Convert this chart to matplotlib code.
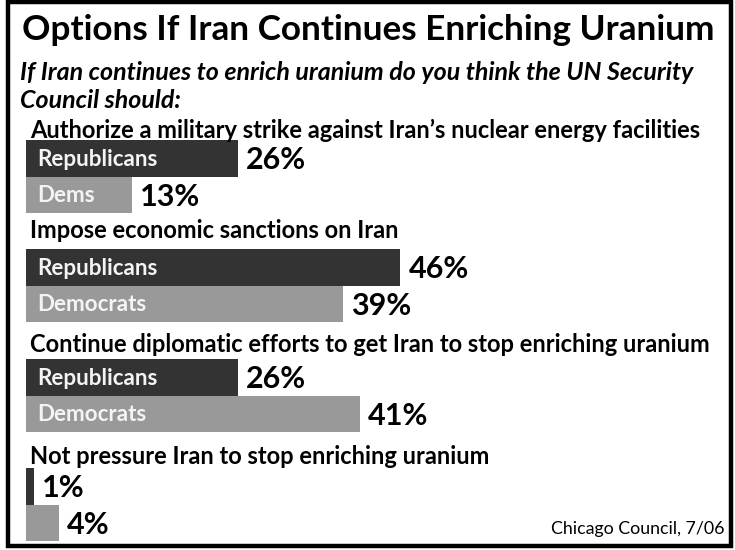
import matplotlib
matplotlib.use("Agg")
import matplotlib.pyplot as plt
from matplotlib.patches import Rectangle

plt.rcParams['font.family'] = ['Lato', 'DejaVu Sans']

title = "Options If Iran Continues Enriching Uranium"
subtitle = ["If Iran continues to enrich uranium do you think the UN Security",
            "Council should:"]
questions = [
    "Authorize a military strike against Iran\u2019s nuclear energy facilities",
    "Impose economic sanctions on Iran",
    "Continue diplomatic efforts to get Iran to stop enriching uranium",
    "Not pressure Iran to stop enriching uranium",
]
rep_values = [26, 46, 26, 1]
dem_values = [13, 39, 41, 4]
rep_names = ["Republicans", "Republicans", "Republicans", ""]
dem_names = ["Dems", "Democrats", "Democrats", ""]
source = "Chicago Council, 7/06"

W, H = 735, 550
DARK, LIGHT = "#333333", "#999999"

# layout, in pixels from the top left
question_y = [130, 231, 345, 456]
rep_top = [140, 249, 359, 468]
bar_h = 36.5
bar_left = 26
px_per_pct = 8.14


def fit(txt, width_px, renderer):
    # scale font so the text covers the given pixel width
    bb = txt.get_window_extent(renderer)
    txt.set_fontsize(txt.get_fontsize() * width_px / bb.width)


fig = plt.figure(figsize=(W / 100, H / 100), dpi=100)
renderer = fig.canvas.get_renderer()

# bars, x in percent
bx = fig.add_axes([bar_left / W, 0, (W - bar_left) / W, 1])
bx.set_xlim(0, (W - bar_left) / px_per_pct)
bx.set_ylim(H, 0)
bx.axis("off")

rep_c = [t + bar_h / 2 for t in rep_top]
dem_c = [t + bar_h * 1.5 for t in rep_top]
bx.barh(rep_c, rep_values, height=bar_h, color=DARK, linewidth=0)
bx.barh(dem_c, dem_values, height=bar_h, color=LIGHT, linewidth=0)

for vals, centers in [(rep_values, rep_c), (dem_values, dem_c)]:
    for v, yc in zip(vals, centers):
        bx.annotate(f"{v}%", xy=(v, yc), xytext=(8, -2), textcoords="offset pixels",
                    ha="left", va="center", fontsize=22, fontweight="bold",
                    color="black")

# text overlay, in pixels
ax = fig.add_axes([0, 0, 1, 1])
ax.set_xlim(0, W)
ax.set_ylim(H, 0)
ax.axis("off")
ax.set_zorder(3)

t = ax.text(22, 30, title, ha="left", va="center", fontsize=30, fontweight="bold")
fit(t, 693, renderer)

s1 = ax.text(20, 72, subtitle[0], ha="left", va="center", fontsize=16,
             fontweight="bold", style="italic")
fit(s1, 673, renderer)
ax.text(20, 100, subtitle[1], ha="left", va="center", fontsize=s1.get_fontsize(),
        fontweight="bold", style="italic")

q0 = ax.text(30, question_y[0], questions[0], ha="left", va="center",
             fontsize=14, fontweight="bold")
fit(q0, 674, renderer)
for q, y in zip(questions[1:], question_y[1:]):
    ax.text(30, y, q, ha="left", va="center", fontsize=q0.get_fontsize(),
            fontweight="bold")

r0 = ax.text(37, rep_c[0] + 1, rep_names[0], ha="left", va="center",
             fontsize=14, fontweight="bold", color="#f4f4f4")
fit(r0, 121, renderer)
for names, centers in [(rep_names[1:], rep_c[1:]), (dem_names, dem_c)]:
    for n, yc in zip(names, centers):
        if n:
            ax.text(37, yc + 1, n, ha="left", va="center", fontsize=r0.get_fontsize(),
                    fontweight="bold", color="#f4f4f4")

src = ax.text(725, 529, source, ha="right", va="center", fontsize=12)
fit(src, 173, renderer)

ax.add_patch(Rectangle((8, 2), 723, 543.5, fill=False, edgecolor="black",
                       linewidth=3.2, clip_on=False))

fig.savefig("out.png", dpi=100)
